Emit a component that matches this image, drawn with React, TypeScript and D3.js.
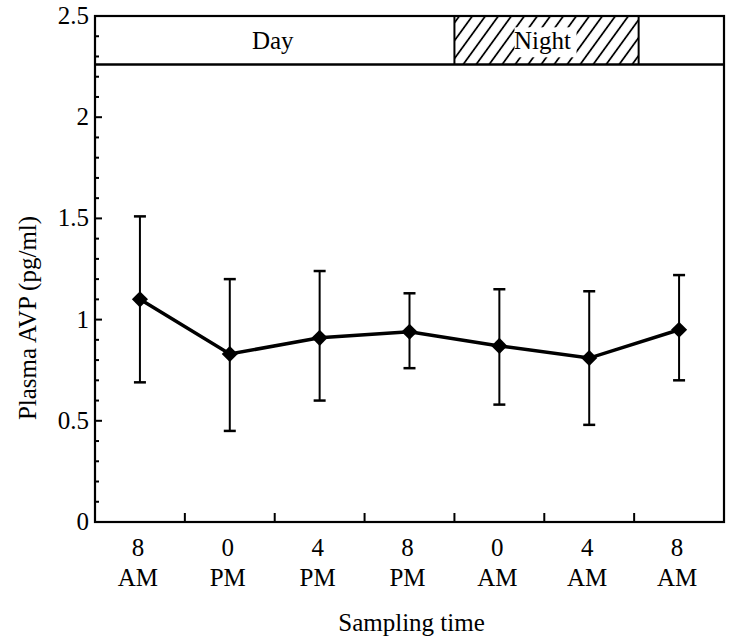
import * as d3 from "d3";

const timeTop = ["8", "0", "4", "8", "0", "4", "8"];
const timeBottom = ["AM", "PM", "PM", "PM", "AM", "AM", "AM"];
const meanAVP = [1.1, 0.83, 0.91, 0.94, 0.87, 0.81, 0.95];
const upperAVP = [1.51, 1.2, 1.24, 1.13, 1.15, 1.14, 1.22];
const lowerAVP = [0.69, 0.45, 0.6, 0.76, 0.58, 0.48, 0.7];
const yMajor = [0, 0.5, 1, 1.5, 2, 2.5];
const bandBottom = 2.26;
const nightSpan = [3.5, 5.55];

export default function App() {
  const width = 729;
  const height = 637;
  const font = "'Liberation Serif', 'Times New Roman', serif";
  const fs = 25;

  const x = d3.scaleLinear().domain([-0.5, 6.5]).range([95, 724]);
  const y = d3.scaleLinear().domain([0, 2.5]).range([522, 16]);

  const minor = d3.range(0, 26).map((d) => d / 10);
  const xTicks = d3.range(0, 6).map((d) => d + 0.5);

  const line = d3
    .line<number>()
    .x((_, i) => x(i))
    .y((d) => y(d));

  const [x0, x1] = x.range();
  const [yb, yt] = y.range();
  const nx0 = x(nightSpan[0]);
  const nx1 = x(nightSpan[1]);
  const by = y(bandBottom);
  const midBand = (yt + by) / 2;

  return (
    <svg
      width={width}
      height={height}
      style={{ position: "absolute", left: 0, top: 0, background: "#fff" }}
      fontFamily={font}
    >
      <defs>
        <pattern
          id="hatch"
          width="13"
          height="13"
          patternUnits="userSpaceOnUse"
          patternTransform="skewX(-36)"
        >
          <line x1="3" y1="0" x2="3" y2="13" stroke="#000" strokeWidth="2.2" />
        </pattern>
      </defs>

      {/* day / night band */}
      <rect x={nx0} y={yt} width={nx1 - nx0} height={by - yt} fill="url(#hatch)" />
      <rect x={(nx0 + nx1) / 2 - 32} y={midBand - 13} width={62} height={30} fill="#fff" />
      <line x1={nx0} x2={nx0} y1={yt} y2={by} stroke="#000" strokeWidth="2" />
      <line x1={nx1} x2={nx1} y1={yt} y2={by} stroke="#000" strokeWidth="2" />
      <line x1={x0} x2={x1} y1={by} y2={by} stroke="#000" strokeWidth="2.5" />
      <text x={(x0 + nx0) / 2 - 2} y={midBand + 9} textAnchor="middle" fontSize={fs}>
        Day
      </text>
      <text x={(nx0 + nx1) / 2 - 4} y={midBand + 9} textAnchor="middle" fontSize={fs}>
        Night
      </text>

      {/* frame */}
      <rect x={x0} y={yt} width={x1 - x0} height={yb - yt} fill="none" stroke="#000" strokeWidth="2.2" />

      {/* y axis */}
      {minor.map((v) => (
        <line
          key={v}
          x1={x0}
          x2={x0 + (Math.abs(v * 2 - Math.round(v * 2)) < 1e-6 ? 7 : 4)}
          y1={y(v)}
          y2={y(v)}
          stroke="#000"
          strokeWidth="2"
        />
      ))}
      {yMajor.map((v) => (
        <text key={v} x={x0 - 6} y={y(v) + 8} textAnchor="end" fontSize={fs}>
          {v}
        </text>
      ))}
      <text transform={`translate(36, ${318}) rotate(-90)`} textAnchor="middle" fontSize={fs}>
        Plasma AVP (pg/ml)
      </text>

      {/* x axis */}
      {xTicks.map((v) => (
        <line key={v} x1={x(v)} x2={x(v)} y1={yb} y2={yb - 9} stroke="#000" strokeWidth="2" />
      ))}
      {timeTop.map((t, i) => (
        <g key={i} textAnchor="middle" fontSize={fs}>
          <text x={x(i) - 2} y={556}>
            {t}
          </text>
          <text x={x(i) - 2} y={586}>
            {timeBottom[i]}
          </text>
        </g>
      ))}
      <text x={(x0 + x1) / 2 + 2} y={631} textAnchor="middle" fontSize={fs}>
        Sampling time
      </text>

      {/* error bars */}
      {meanAVP.map((_, i) => (
        <g key={i} stroke="#000">
          <line x1={x(i)} x2={x(i)} y1={y(upperAVP[i])} y2={y(lowerAVP[i])} strokeWidth="2" />
          <line x1={x(i) - 6} x2={x(i) + 6} y1={y(upperAVP[i])} y2={y(upperAVP[i])} strokeWidth="2.5" />
          <line x1={x(i) - 6} x2={x(i) + 6} y1={y(lowerAVP[i])} y2={y(lowerAVP[i])} strokeWidth="2.5" />
        </g>
      ))}

      {/* mean line */}
      <path d={line(meanAVP) ?? ""} fill="none" stroke="#000" strokeWidth="3.5" />
      {meanAVP.map((d, i) => (
        <path
          key={i}
          d={d3.symbol(d3.symbolSquare, 130)() ?? ""}
          transform={`translate(${x(i)}, ${y(d)}) rotate(45)`}
          fill="#000"
        />
      ))}
    </svg>
  );
}
